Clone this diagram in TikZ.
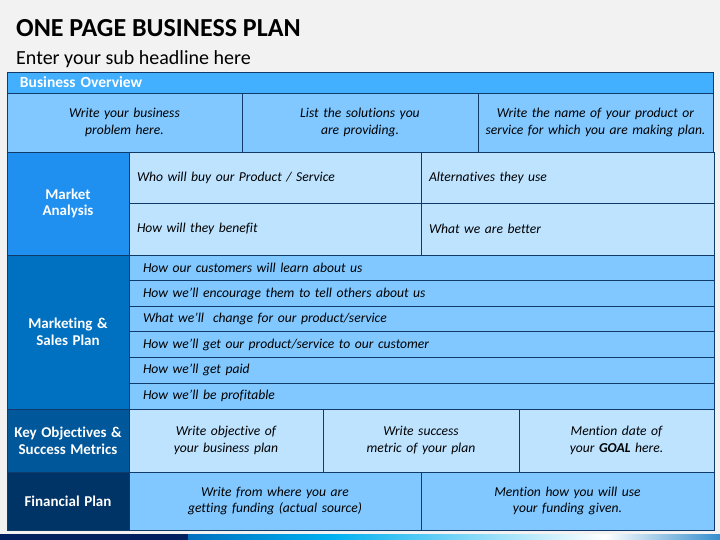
\documentclass[tikz,border=0pt]{standalone}
\usepackage{fontspec}
\setmainfont[Ligatures={NoCommon}]{Carlito}
\usetikzlibrary{positioning}
\definecolor{bgc}{HTML}{F2F2F2}
\definecolor{hdrc}{HTML}{42AFFF}
\definecolor{midc}{HTML}{80C8FF}
\definecolor{litc}{HTML}{BDE3FF}
\definecolor{mkac}{HTML}{1F8FF0}
\definecolor{mksc}{HTML}{0070C0}
\definecolor{keyc}{HTML}{00579A}
\definecolor{finc}{HTML}{003366}
\definecolor{bordc}{HTML}{0F3A6A}
\definecolor{navyc}{HTML}{002060}
\definecolor{blc}{HTML}{0070C0}
\definecolor{cyc}{HTML}{00B0F0}
\tikzset{
  cellbase/.style={draw=bordc,line width=0.9pt,rectangle,inner xsep=2pt,inner ysep=0pt,
    font=\fontsize{13.6}{16.8}\selectfont\itshape,text=black},
}
\newcommand\sidefont{\fontsize{15}{19}\selectfont\upshape\bfseries\color{white}}
\newcommand\mkcell[8]{\node[cellbase,fill=#6,minimum width={(#4-#2)*1pt},minimum height={(#5-#3)*1pt},text width={(#4-#2)*1pt-4pt},align=#7] (#1) at ({(#2+#4)/2},{(#3+#5)/2}) {#8};}
\begin{document}
\begin{tikzpicture}[x=1pt,y=-1pt]
\useasboundingbox (0,0) rectangle (720,540);
\fill[bgc] (0,0) rectangle (720,540);
% title
\node[anchor=base west,inner sep=0pt,font=\fontsize{26}{30}\selectfont\bfseries] (title) at (16,37) {ONE PAGE BUSINESS PLAN};
\node[anchor=base west,inner sep=0pt,font=\fontsize{20}{23}\selectfont] (sub) at (16,65) {Enter your sub headline here};
% header
\node[cellbase,fill=hdrc,minimum width=706pt,minimum height=21pt,text width=702pt,align=left,font=\fontsize{15.5}{17}\selectfont\bfseries,text=white] (bo) at (360,82.5) {\hspace*{11pt}Business Overview};
% business overview row
\mkcell{bo1}{7}{93}{242}{152}{midc}{center}{Write your business\\problem here.}
\mkcell{bo2}{242}{93}{478}{152}{midc}{center}{List the solutions you\\are providing.}
\mkcell{bo3}{478}{93}{713}{152}{midc}{center}{Write the name of your product or\\service for which you are making plan.}
% market analysis
\mkcell{ma}{7}{152}{129}{255}{mkac}{center}{\sidefont Market\\Analysis}
\mkcell{ma1}{129}{152}{421}{203}{litc}{left}{\hspace*{6pt}Who will buy our Product / Service}
\mkcell{ma2}{421}{152}{714}{203}{litc}{left}{\hspace*{6pt}Alternatives they use}
\mkcell{ma3}{129}{203}{421}{255}{litc}{left}{\hspace*{6pt}How will they benefit}
\mkcell{ma4}{421}{203}{714}{255}{litc}{left}{\hspace*{6pt}What we are better}
% marketing & sales
\mkcell{ms}{7}{255}{129}{409}{mksc}{center}{\sidefont Marketing \&\\Sales Plan}
\mkcell{ms1}{129}{255}{714}{280.7}{midc}{left}{\hspace*{12pt}How our customers will learn about us}
\mkcell{ms2}{129}{280.7}{714}{306.3}{midc}{left}{\hspace*{12pt}How we’ll encourage them to tell others about us}
\mkcell{ms3}{129}{306.3}{714}{331.8}{midc}{left}{\hspace*{12pt}What we’ll\ \ change for our product/service}
\mkcell{ms4}{129}{331.8}{714}{357.4}{midc}{left}{\hspace*{12pt}How we’ll get our product/service to our customer}
\mkcell{ms5}{129}{357.4}{714}{383}{midc}{left}{\hspace*{12pt}How we’ll get paid}
\mkcell{ms6}{129}{383}{714}{409}{midc}{left}{\hspace*{12pt}How we’ll be profitable}
% key objectives
\mkcell{ko}{7}{409}{129}{472}{keyc}{center}{\sidefont Key Objectives \&\\Success Metrics}
\mkcell{ko1}{129}{409}{323}{472}{litc}{center}{Write objective of\\your business plan}
\mkcell{ko2}{323}{409}{519}{472}{litc}{center}{Write success\\metric of your plan}
\mkcell{ko3}{519}{409}{714}{472}{litc}{center}{Mention date of\\your \textbf{GOAL} here.}
% financial
\mkcell{fp}{7}{472}{129}{530}{finc}{center}{\sidefont Financial Plan}
\mkcell{fp1}{129}{472}{421}{530}{midc}{center}{Write from where you are\\getting funding (actual source)}
\mkcell{fp2}{421}{472}{714}{530}{midc}{center}{Mention how you will use\\your funding given.}
% bottom bar
\fill[navyc] (0,534) rectangle (188,540);
\shade[left color=blc,right color=cyc] (188,534) rectangle (330,540);
\shade[left color=cyc,right color=white] (330,534) rectangle (605,540);
\shade[left color=white,right color=blc!80] (605,534) rectangle (720,540);
\end{tikzpicture}
\end{document}
